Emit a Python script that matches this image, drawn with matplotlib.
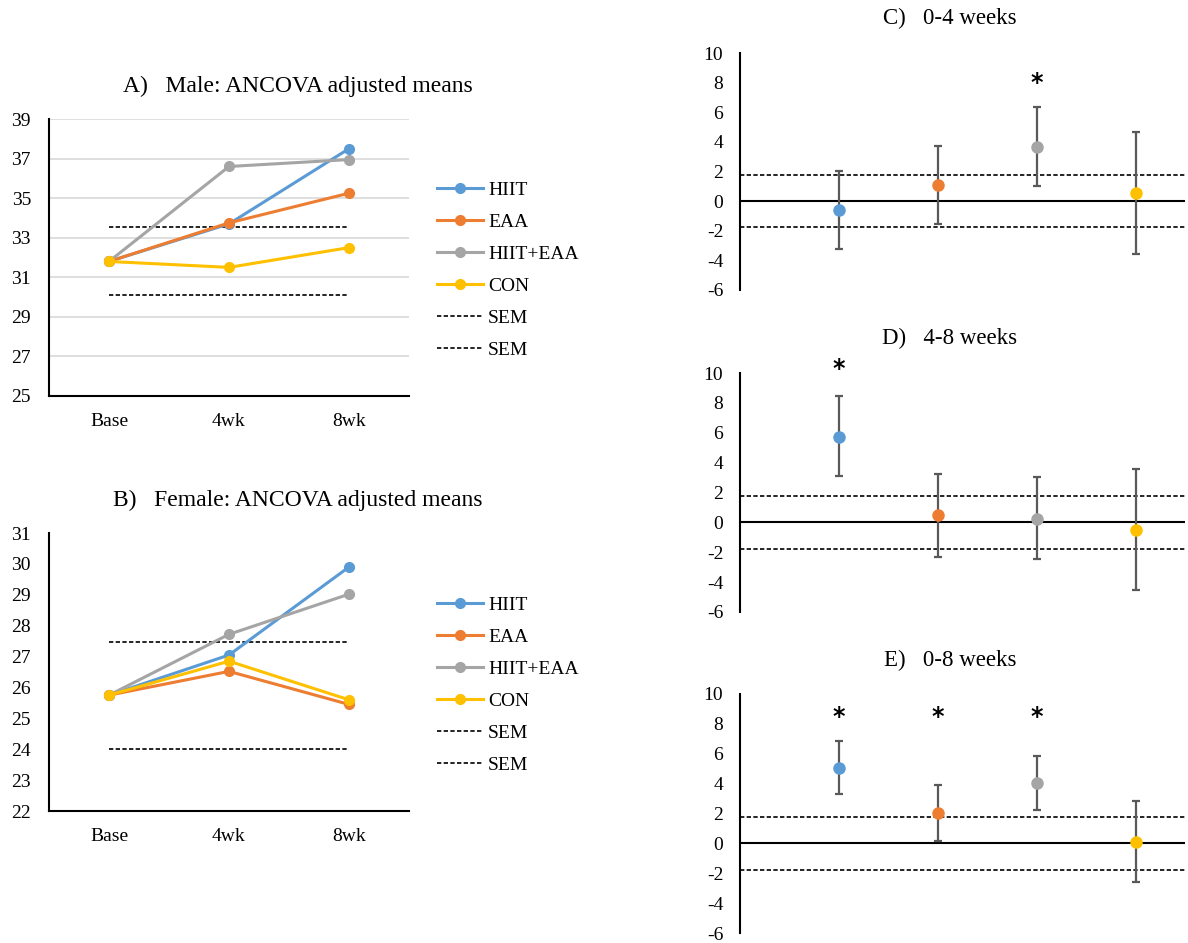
import matplotlib
matplotlib.use("Agg")
import matplotlib.pyplot as plt

plt.rcParams['font.family'] = ['Liberation Serif', 'DejaVu Serif']
plt.rcParams['axes.unicode_minus'] = False

# ---------------- data ----------------
timepoints = ["Base", "4wk", "8wk"]
groups = ["HIIT", "EAA", "HIIT+EAA", "CON"]
colors = ["#5B9BD5", "#ED7D31", "#A5A5A5", "#FFC000"]

male_hiit = [31.8, 33.7, 37.5]
male_eaa = [31.8, 33.75, 35.25]
male_hiit_eaa = [31.8, 36.6, 36.95]
male_con = [31.8, 31.5, 32.5]
male_sem_upper = [33.55, 33.55, 33.55]
male_sem_lower = [30.08, 30.08, 30.08]

female_hiit = [25.75, 27.05, 29.9]
female_eaa = [25.75, 26.52, 25.45]
female_hiit_eaa = [25.75, 27.72, 29.02]
female_con = [25.75, 26.85, 25.6]
female_sem_upper = [27.47, 27.47, 27.47]
female_sem_lower = [24.02, 24.02, 24.02]

# change scores: mean, lower CI, upper CI
c_mean = [-0.62, 1.1, 3.65, 0.55]
c_low = [-3.24, -1.53, 0.99, -3.56]
c_high = [2.05, 3.74, 6.37, 4.64]
c_sig = [False, False, True, False]
c_star_y = 8.0
c_sem = 1.75

d_mean = [5.7, 0.5, 0.25, -0.5]
d_low = [3.11, -2.3, -2.48, -4.54]
d_high = [8.43, 3.24, 3.04, 3.6]
d_sig = [True, False, False, False]
d_star_y = 10.3
d_sem = 1.75

e_mean = [5.03, 2.06, 4.07, 0.07]
e_low = [3.29, 0.16, 2.24, -2.61]
e_high = [6.85, 3.91, 5.86, 2.84]
e_sig = [True, True, True, False]
e_star_y = 8.45
e_sem = 1.75

# ---------------- figure ----------------
W, H = 1188, 943
fig = plt.figure(figsize=(W / 100, H / 100), dpi=100)


def rect(x0, y0, x1, y1):
    return [x0 / W, 1 - y1 / H, (x1 - x0) / W, (y1 - y0) / H]


DASH = (0, (2.6, 1.4))


def line_panel(ax, series, sem_u, sem_l, ylim, yticks, grid, title, title_y, leg_y):
    x = [0.5, 1.5, 2.5]
    for vals, col, name in zip(series, colors, groups):
        ax.plot(x, vals, color=col, lw=2.2, marker='o', ms=7, label=name, zorder=3)
    ax.plot(x, sem_u, color='black', lw=1.2, ls=DASH, label='SEM', zorder=2)
    ax.plot(x, sem_l, color='black', lw=1.2, ls=DASH, label='SEM', zorder=2)
    ax.set_xlim(0, 3)
    ax.set_ylim(*ylim)
    ax.set_yticks(yticks)
    ax.set_xticks(x)
    ax.set_xticklabels(timepoints)
    if grid:
        for yv in yticks[1:]:
            ax.axhline(yv, color='#D9D9D9', lw=1.2, zorder=0)
    for s in ['top', 'right']:
        ax.spines[s].set_visible(False)
    for s in ['left', 'bottom']:
        ax.spines[s].set_color('black')
        ax.spines[s].set_linewidth(1.5)
    ax.tick_params(length=0, labelsize=14, pad=13)
    ax.tick_params(axis='x', pad=12)
    ax.legend(loc='upper left', bbox_to_anchor=(1.078, leg_y), frameon=False,
              fontsize=14, handlelength=2.37, handletextpad=0.26,
              labelspacing=0.74, borderaxespad=0, borderpad=0)
    fig.text(298 / W, 1 - title_y / H, title, ha='center', va='center', fontsize=17)


axA = fig.add_axes(rect(49, 119, 409, 396))
line_panel(axA, [male_hiit, male_eaa, male_hiit_eaa, male_con], male_sem_upper, male_sem_lower,
           (25, 39), list(range(25, 40, 2)), True, "A)   Male: ANCOVA adjusted means", 86, 0.776)

axB = fig.add_axes(rect(49, 533, 409, 811))
line_panel(axB, [female_hiit, female_eaa, female_hiit_eaa, female_con], female_sem_upper,
           female_sem_lower, (22, 31), list(range(22, 32)), False,
           "B)   Female: ANCOVA adjusted means", 500, 0.773)


def diff_panel(ax, mean, low, high, sig, star_y, sem, title, title_y):
    x = [1, 2, 3, 4]
    ax.set_xlim(0, 4.5)
    ax.set_ylim(-6, 10)
    ax.set_yticks(range(-6, 11, 2))
    ax.set_xticks([])
    ax.axhline(0, color='black', lw=1.5, zorder=1)
    ax.axhline(sem, color='black', lw=1.2, ls=DASH, zorder=1)
    ax.axhline(-sem, color='black', lw=1.2, ls=DASH, zorder=1)
    for xi, m, lo, hi, col, s in zip(x, mean, low, high, colors, sig):
        ax.errorbar([xi], [m], yerr=[[m - lo], [hi - m]], fmt='none', ecolor='#595959',
                    elinewidth=1.6, capsize=3, capthick=1.6, zorder=2)
        ax.plot([xi], [m], 'o', color=col, ms=8, zorder=3, clip_on=False)
        if s:
            ax.text(xi, star_y, "*", ha='center', va='center', fontsize=17,
                    fontweight='bold', clip_on=False, family='DejaVu Sans')
    for s in ['top', 'right', 'bottom']:
        ax.spines[s].set_visible(False)
    ax.spines['left'].set_color('black')
    ax.spines['left'].set_linewidth(1.5)
    ax.tick_params(length=0, labelsize=14, pad=12)
    fig.text(950 / W, 1 - title_y / H, title, ha='center', va='center', fontsize=16.5)


axC = fig.add_axes(rect(740, 53, 1185, 290))
diff_panel(axC, c_mean, c_low, c_high, c_sig, c_star_y, c_sem, "C)   0-4 weeks", 18)

axD = fig.add_axes(rect(740, 373, 1185, 612))
diff_panel(axD, d_mean, d_low, d_high, d_sig, d_star_y, d_sem, "D)   4-8 weeks", 338)

axE = fig.add_axes(rect(740, 694, 1185, 933))
diff_panel(axE, e_mean, e_low, e_high, e_sig, e_star_y, e_sem, "E)   0-8 weeks", 660)

fig.savefig("out.png", dpi=100)
